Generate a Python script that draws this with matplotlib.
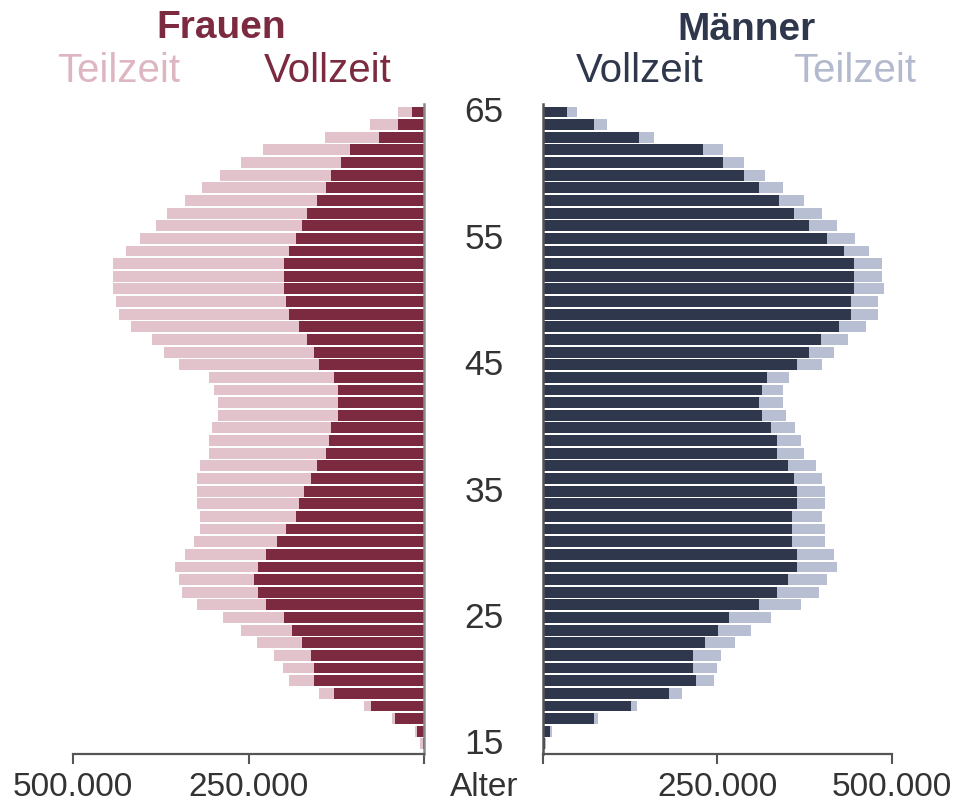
import matplotlib
matplotlib.use("Agg")
import matplotlib.pyplot as plt
from matplotlib.transforms import blended_transform_factory

plt.rcParams['font.family'] = ['Liberation Sans', 'DejaVu Sans']

# Ages from 65 down to 15 (values in thousands)
ages = list(range(65, 14, -1))

frauen_vollzeit = [16.6, 37.5, 64, 106, 118, 132, 140, 152, 166, 174,
                   182, 192, 199, 199, 199, 196, 192, 178, 166, 156,
                   149, 128, 123, 123, 123, 132, 136, 140, 152, 161,
                   171, 178, 182, 196, 209, 225, 237, 242, 237, 225,
                   199, 188, 174, 161, 157, 157, 128, 76, 42, 9.5, 1]
frauen_teilzeit = [21, 40, 77, 124, 142, 158, 176, 189, 200, 208,
                   223, 233, 244, 244, 244, 243, 243, 239, 221, 215,
                   200, 178, 176, 171, 171, 170, 170, 166, 167, 163,
                   153, 146, 137, 123, 119, 116, 117, 107, 108, 99,
                   87, 72, 64, 52, 44, 35, 21, 9, 4, 3.5, 4]
maenner_vollzeit = [35, 74, 138, 229, 258, 288, 310, 339, 360, 382,
                    408, 431, 446, 446, 446, 442, 442, 425, 399, 382,
                    365, 322, 314, 310, 314, 327, 335, 335, 352, 360,
                    365, 365, 357, 357, 357, 365, 365, 352, 335, 310,
                    267, 251, 233, 216, 216, 220, 181, 126, 74, 10.5, 3]
maenner_teilzeit = [14, 18, 22, 29, 30, 30, 34, 35, 40, 39,
                    39, 37, 40, 40, 43, 39, 39, 38, 39, 35,
                    35, 31, 30, 34, 35, 34, 35, 39, 40, 40,
                    39, 39, 43, 47, 47, 52, 56, 56, 61, 60,
                    60, 47, 43, 39, 34, 26, 18, 9, 5, 3.5, 1.7]

age_ticks = [65, 55, 45, 35, 25, 15]
x_ticks = [0, 250, 500]
x_ticklabels_left = ['', '250.000', '500.000']
x_ticklabels_right = ['', '250.000', '500.000']

c_fv = '#7B2A3F'
c_ft = '#E2C3CC'
c_mv = '#2F374C'
c_mt = '#B9BFD2'
c_txt = '#333333'
c_spine = '#555555'

fig = plt.figure(figsize=(9.63, 8.03), dpi=100)
W, H = 963, 803

def axrect(x0, x1, ytop, ybot):
    return [x0 / W, 1 - ybot / H, (x1 - x0) / W, (ybot - ytop) / H]

axL = fig.add_axes(axrect(73, 424, 105, 755))
axR = fig.add_axes(axrect(542.7, 891.7, 105, 755))

bh = 0.86
axL.barh(ages, frauen_vollzeit, height=bh, color=c_fv, linewidth=0)
axL.barh(ages, frauen_teilzeit, left=frauen_vollzeit, height=bh, color=c_ft, linewidth=0)
axR.barh(ages, maenner_vollzeit, height=bh, color=c_mv, linewidth=0)
axR.barh(ages, maenner_teilzeit, left=maenner_vollzeit, height=bh, color=c_mt, linewidth=0)

ylim = (14.2, 65.63)
axL.set_xlim(500, 0)
axR.set_xlim(0, 500)
for ax in (axL, axR):
    ax.set_ylim(*ylim)
    ax.set_yticks([])
    ax.spines['top'].set_visible(False)
    ax.set_xticks(x_ticks)
    ax.tick_params(axis='x', direction='out', length=7, width=1.5, color=c_spine,
                   labelsize=24, labelcolor=c_txt, pad=5.5)
    ax.spines['bottom'].set_color(c_spine)
    ax.spines['bottom'].set_linewidth(1.6)

axL.set_xticklabels(x_ticklabels_left)
axR.set_xticklabels(x_ticklabels_right)
axL.spines['left'].set_visible(False)
axL.spines['right'].set_color('#8a8a8a')
axL.spines['right'].set_linewidth(1.8)
axR.spines['right'].set_visible(False)
axR.spines['left'].set_color(c_spine)
axR.spines['left'].set_linewidth(1.8)

# Age labels in the middle
tr = blended_transform_factory(fig.transFigure, axL.transData)
for a in age_ticks:
    axL.text(484 / W, a, str(a), transform=tr, ha='center', va='center',
             fontsize=25.5, color=c_txt, clip_on=False)
fig.text(484 / W, 1 - 796 / H, 'Alter', ha='center', va='baseline',
         fontsize=24, color=c_txt)

# Headers
fig.text(221 / W, 1 - 38.5 / H, 'Frauen', ha='center', va='baseline',
         fontsize=28, fontweight='bold', color=c_fv)
fig.text(746 / W, 1 - 40.5 / H, 'Männer', ha='center', va='baseline',
         fontsize=28, fontweight='bold', color=c_mv)
fig.text(119 / W, 1 - 82 / H, 'Teilzeit', ha='center', va='baseline',
         fontsize=29, color='#DDB6C1')
fig.text(328 / W, 1 - 82 / H, 'Vollzeit', ha='center', va='baseline',
         fontsize=29, color=c_fv)
fig.text(640 / W, 1 - 82 / H, 'Vollzeit', ha='center', va='baseline',
         fontsize=29, color=c_mv)
fig.text(855 / W, 1 - 82 / H, 'Teilzeit', ha='center', va='baseline',
         fontsize=29, color='#B3BACE')

fig.savefig('out.png', dpi=100)
